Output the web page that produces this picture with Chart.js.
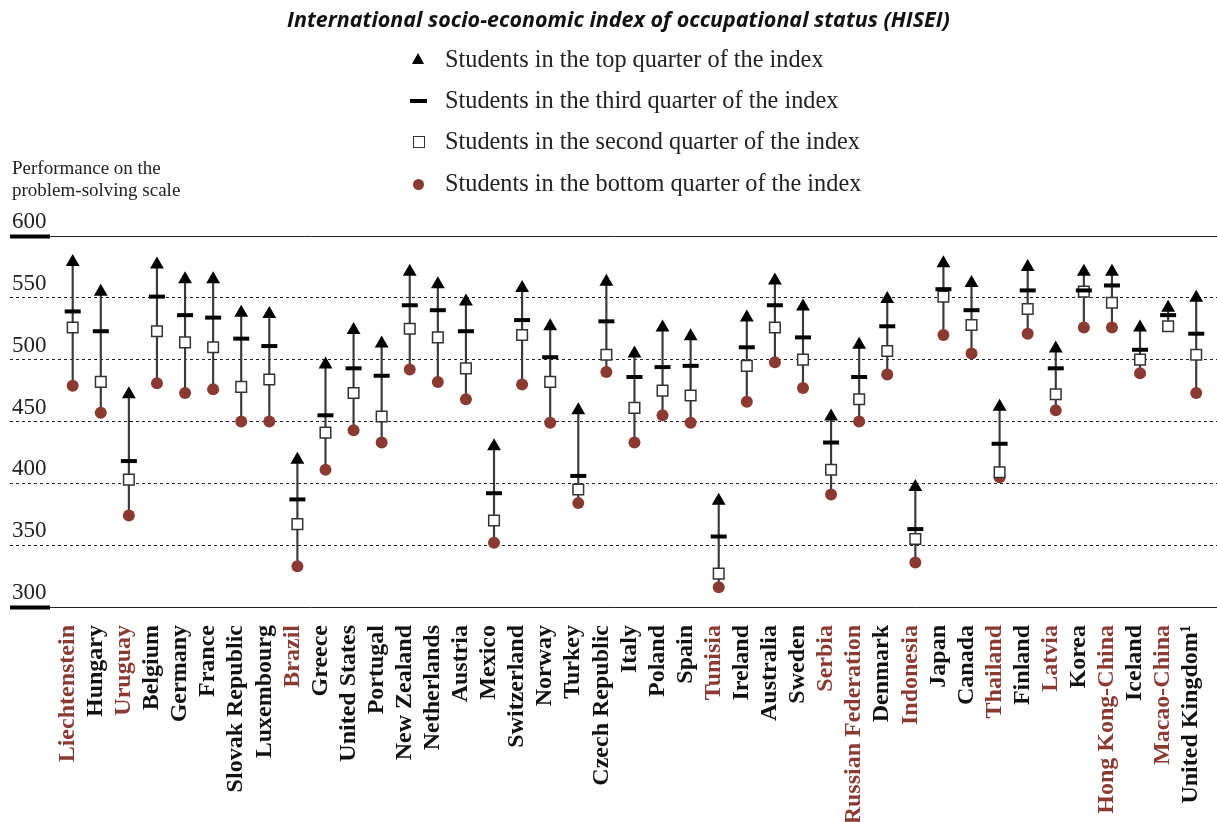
<!DOCTYPE html>
<html>
<head>
<meta charset="utf-8">
<script src="https://cdn.jsdelivr.net/npm/chart.js@4/dist/chart.umd.min.js"></script>
<style>
  html, body { margin: 0; padding: 0; background: #fff; }
  #wrap { position: relative; width: 1217px; height: 822px; }
  #title { position: absolute; top: 4px; left: 10px; width: 1217px; text-align: center;
           font: italic bold 21.5px "Open Sans", sans-serif; color: #111; }
  .leg { position: absolute; left: 445px; font: 24.3px "Liberation Serif", serif; color: #222; line-height: 26px; }
  .mk { position: absolute; }
  #ycap { position: absolute; left: 12px; top: 157px; font: 19px "Liberation Serif", serif; color: #222; line-height: 22px; }
</style>
</head>
<body>
<div id="wrap">
  <canvas id="chart" width="1217" height="822"></canvas>
  <div id="title">International socio-economic index of occupational status (HISEI)</div>
  <div class="mk" style="left:412px;top:53px;width:0;height:0;border-left:6px solid transparent;border-right:6px solid transparent;border-bottom:11px solid #000;"></div>
  <div class="leg" style="top:46px">Students in the top quarter of the index</div>
  <div class="mk" style="left:410px;top:99px;width:17px;height:4px;background:#000;"></div>
  <div class="leg" style="top:87px">Students in the third quarter of the index</div>
  <div class="mk" style="left:413px;top:136px;width:10px;height:10px;border:1px solid #333;background:#fff;"></div>
  <div class="leg" style="top:128px">Students in the second quarter of the index</div>
  <div class="mk" style="left:413px;top:179px;width:11px;height:11px;border-radius:50%;background:#8b3a32;"></div>
  <div class="leg" style="top:170px">Students in the bottom quarter of the index</div>
  <div id="ycap">Performance on the<br>problem-solving scale</div>
</div>
<script>
const countries = ["Liechtenstein", "Hungary", "Uruguay", "Belgium", "Germany", "France",
  "Slovak Republic", "Luxembourg", "Brazil", "Greece", "United States", "Portugal",
  "New Zealand", "Netherlands", "Austria", "Mexico", "Switzerland", "Norway", "Turkey",
  "Czech Republic", "Italy", "Poland", "Spain", "Tunisia", "Ireland", "Australia", "Sweden",
  "Serbia", "Russian Federation", "Denmark", "Indonesia", "Japan", "Canada", "Thailand",
  "Finland", "Latvia", "Korea", "Hong Kong-China", "Iceland", "Macao-China", "United Kingdom¹"];

// partner countries, labelled in red
const partners = ["Liechtenstein", "Uruguay", "Brazil", "Tunisia", "Serbia", "Russian Federation",
  "Indonesia", "Thailand", "Latvia", "Hong Kong-China", "Macao-China"];

const topQuarter = [579, 555, 472, 577, 565, 565, 538, 537, 419, 496, 524, 513, 571, 561, 547,
  430, 558, 527, 459, 563, 505, 526, 519, 386, 534, 564, 543, 454, 512, 549, 397, 578, 562,
  462, 575, 509, 571, 571, 526, 542, 550];
const thirdQuarter = [539, 523, 418, 551, 536, 534, 517, 511, 387, 455, 493, 487, 544, 540, 523,
  392, 532, 502, 406, 531, 486, 494, 495, 357, 510, 544, 518, 433, 486, 527, 363, 557, 540,
  432, 556, 493, 556, 560, 508, 536, 521];
const secondQuarter = [526, 482, 403, 523, 514, 510, 478, 484, 367, 441, 473, 454, 525, 518, 493,
  370, 520, 482, 395, 504, 461, 475, 471, 327, 495, 526, 500, 411, 468, 507, 355, 551, 528,
  409, 541, 472, 555, 546, 500, 527, 504];
const bottomQuarter = [479, 457, 374, 481, 473, 476, 450, 450, 333, 411, 443, 433, 492, 482, 468,
  352, 480, 449, 384, 490, 433, 455, 449, 316, 466, 498, 477, 391, 450, 488, 336, 520, 505,
  405, 521, 459, 526, 526, 489, null, 473];

const yTicks = [300, 350, 400, 450, 500, 550, 600];

const RED = "#8b3a32";

const pts = (arr) => arr.map((v, i) => ({ x: i, y: v }));

// short thick marks at the left end of the 300 and 600 lines
const edgeMarks = {
  id: "edgeMarks",
  afterDraw(chart) {
    const { ctx, scales } = chart;
    ctx.save();
    ctx.strokeStyle = "#000";
    ctx.lineWidth = 4;
    [300, 600].forEach((v) => {
      const y = scales.y.getPixelForValue(v) + 0.5;
      ctx.beginPath();
      ctx.moveTo(10, y);
      ctx.lineTo(50, y);
      ctx.stroke();
    });
    ctx.restore();
  },
};

new Chart(document.getElementById("chart"), {
  data: {
    datasets: [
      {
        type: "bar",
        data: countries.map((c, i) => ({
          x: i,
          y: [bottomQuarter[i] ?? secondQuarter[i], topQuarter[i]],
        })),
        backgroundColor: "#3a3a3a",
        barThickness: 1.5,
        order: 10,
      },
      {
        type: "scatter",
        data: pts(bottomQuarter),
        pointStyle: "circle",
        pointRadius: 6,
        backgroundColor: RED,
        borderWidth: 0,
        order: 4,
      },
      {
        type: "scatter",
        data: pts(secondQuarter),
        pointStyle: "rect",
        pointRadius: 7.5,
        backgroundColor: "#fff",
        borderColor: "#333",
        borderWidth: 1.5,
        order: 3,
      },
      {
        type: "scatter",
        data: pts(thirdQuarter),
        pointStyle: "line",
        pointRadius: 8,
        borderColor: "#000",
        borderWidth: 4,
        order: 2,
      },
      {
        type: "scatter",
        data: pts(topQuarter),
        pointStyle: "triangle",
        pointRadius: 8,
        backgroundColor: "#000",
        borderWidth: 0,
        order: 1,
      },
    ],
  },
  options: {
    responsive: false,
    animation: false,
    layout: { autoPadding: false, padding: { left: 10, right: 0, top: 236, bottom: 0 } },
    plugins: { legend: { display: false }, tooltip: { enabled: false } },
    scales: {
      x: {
        type: "linear",
        offset: false,
        min: -2.232,
        max: 40.74,
        afterBuildTicks: (axis) => {
          axis.ticks = countries.map((c, i) => ({ value: i }));
        },
        afterFit: (scale) => {
          scale.height = 215;
          scale.paddingLeft = 0;
          scale.paddingRight = 0;
        },
        grid: { display: false },
        border: { display: false },
        ticks: {
          autoSkip: false,
          minRotation: 90,
          maxRotation: 90,
          padding: 10,
          labelOffset: -5,
          font: { family: "Liberation Serif", size: 24, weight: "bold" },
          color: (ctx) => (partners.includes(countries[ctx.tick.value]) ? RED : "#111"),
          callback: (v) => countries[v],
        },
      },
      y: {
        min: 300,
        max: 600,
        afterBuildTicks: (axis) => {
          axis.ticks = yTicks.map((v) => ({ value: v }));
        },
        afterFit: (scale) => {
          scale.width = 0;
        },
        grid: { color: "#222", lineWidth: 1, drawTicks: false },
        border: {
          display: false,
          dash: (ctx) => (ctx.tick && (ctx.tick.value === 300 || ctx.tick.value === 600) ? [] : [3, 3]),
        },
        ticks: {
          mirror: true,
          padding: 2,
          labelOffset: -14,
          font: { family: "Liberation Serif", size: 23 },
          color: "#222",
        },
      },
    },
  },
  plugins: [edgeMarks],
});
</script>
</body>
</html>
